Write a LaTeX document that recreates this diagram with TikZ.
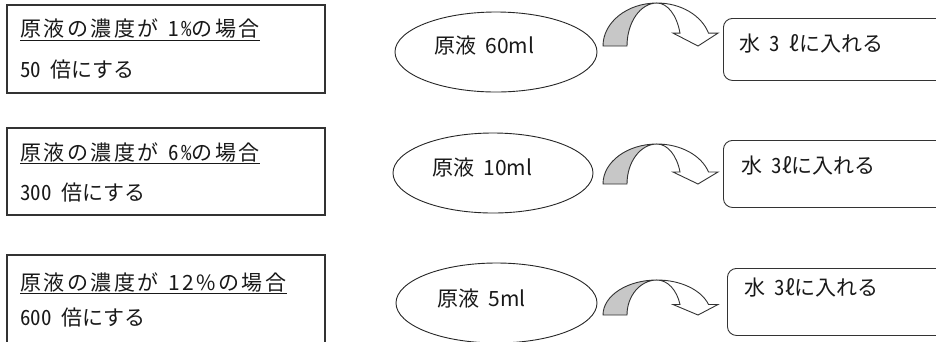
\documentclass[tikz,border=0pt]{standalone}
\usepackage{fontspec}
\setmainfont{Noto Sans CJK JP}
\newfontfamily\jpsp{Noto Sans CJK JP}[LetterSpace=12]
\newfontfamily\hw{Noto Sans CJK JP}[CharacterWidth=Half]
\newfontfamily\hwsp{Noto Sans CJK JP}[CharacterWidth=Half,LetterSpace=12]
\newcommand\hsp{\hspace{0.45em}}
\usetikzlibrary{shapes.geometric}
\newcommand\curvarr[2]{%
  \pgfmathsetmacro\bb{#1}\pgfmathsetmacro\hh{#2}\pgfmathsetmacro\ww{0.3*#2}%
  \filldraw[arrline, fill=black!22] (603,\bb)
    arc[start angle=180, end angle=270, x radius=54, y radius=\hh]
    arc[start angle=270, end angle=180, x radius=30, y radius=\hh] -- cycle;
  \filldraw[arrline, fill=white] (657,\bb-\hh)
    arc[start angle=270, end angle=342.5, x radius=54, y radius=\hh]
    -- (718,\bb-\ww) -- (698,\bb) -- (673,\bb-\ww) -- (680,\bb-\ww)
    arc[start angle=342.5, end angle=270, x radius=24.1, y radius=\hh] -- cycle;
}
\begin{document}
\begin{tikzpicture}[x=1pt, y=-1pt,
  leftbox/.style={draw=black!80, line width=1.3pt, minimum width=318pt, inner sep=0pt},
  oval/.style={ellipse, draw=black!85, line width=0.9pt, inner sep=0pt},
  rbox/.style={draw=black!80, line width=0.9pt, rounded corners=9pt, inner sep=0pt, anchor=north west, minimum width=240pt},
  txt/.style={anchor=base west, inner sep=0pt, font=\fontsize{21}{24}\selectfont, text=black!90},
  uline/.style={draw=black!90, line width=0.8pt},
  arrline/.style={draw=black!80, line width=0.9pt, line join=miter}]
\useasboundingbox (0,0) rectangle (936,341);
\clip (0,0) rectangle (936,341);
\fill[white] (0,0) rectangle (936,341);

% left boxes
\node[leftbox, minimum height=88pt] (L1) at (166,49) {};
\node[leftbox, minimum height=87pt] (L2) at (166,171.5) {};
\node[leftbox, minimum height=88pt] (L3) at (166,299) {};

% ellipses
\node[oval, minimum width=202pt, minimum height=80pt] (E1) at (496,52) {};
\node[oval, minimum width=200pt, minimum height=80pt] (E2) at (493,173) {};
\node[oval, minimum width=201pt, minimum height=80pt] (E3) at (496.5,303) {};

% right boxes
\node[rbox, minimum height=62pt] (R1) at (723,18) {};
\node[rbox, minimum height=67pt] (R2) at (723,140) {};
\node[rbox, minimum height=67pt] (R3) at (727,268) {};

% curved arrows
\curvarr{46}{43}
\curvarr{184}{40}
\curvarr{315}{35}

% texts in left boxes
\node[txt] (T1a) at (20,36.6) {\jpsp 原液の濃度が{\hwsp\hsp 1\%}の場合};
\node[txt] (T1b) at (20,77) {{\hw 50}\hsp 倍にする};
\node[txt] (T2a) at (20,160.5) {\jpsp 原液の濃度が{\hwsp\hsp 6\%}の場合};
\node[txt] (T2b) at (20,200.5) {{\hw 300}\hsp 倍にする};
\node[txt] (T3a) at (20,290.5) {\jpsp 原液の濃度が{\hsp 12\%}の場合};
\node[txt] (T3b) at (20,325.5) {{\hw 600}\hsp 倍にする};
\draw[uline] ([yshift=-3.4pt]T1a.base west) -- ([yshift=-3.4pt]T1a.base east);
\draw[uline] ([yshift=-3pt]T2a.base west) -- ([yshift=-3pt]T2a.base east);
\draw[uline] ([yshift=-3pt]T3a.base west) -- ([yshift=-3pt]T3a.base east);

% texts in ellipses
\node[txt] (S1) at (434,53.5) {原液\hsp 60ml};
\node[txt] (S2) at (432,175.5) {原液\hsp 10ml};
\node[txt] (S3) at (437,306.5) {原液\hsp 5ml};

% texts in right boxes
\node[txt] (W1) at (739,51.5) {水\hsp{\hw 3}\hsp ℓに入れる};
\node[txt] (W2) at (741,173.5) {水\hsp{\hw 3}ℓに入れる};
\node[txt] (W3) at (744,295.5) {水\hsp{\hw 3}ℓに入れる};
\end{tikzpicture}
\end{document}
